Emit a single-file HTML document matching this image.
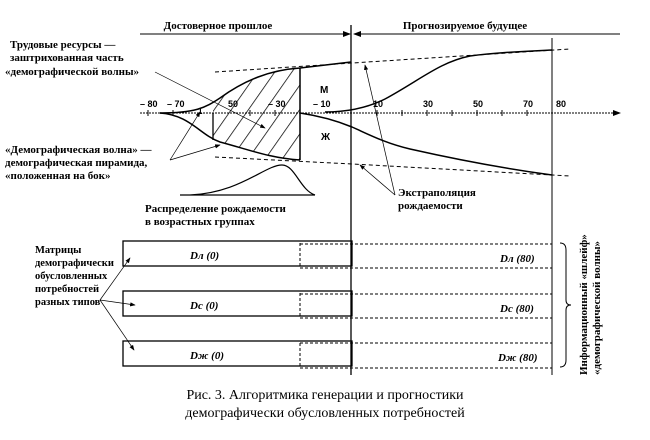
<!DOCTYPE html>
<html><head><meta charset="utf-8"><style>
body{margin:0;background:#fff}
svg{display:block}
.s{font-family:"Liberation Serif",serif;font-weight:bold;font-size:11px}
.a{font-family:"Liberation Sans",sans-serif;font-size:9px;font-weight:bold}
</style></head><body>
<svg width="650" height="440" viewBox="0 0 650 440">
<defs>
<marker id="ar" markerWidth="8" markerHeight="6" refX="7" refY="3" orient="auto"><path d="M0,0 L8,3 L0,6z" fill="#000"/></marker>
<pattern id="h" width="14" height="14" patternUnits="userSpaceOnUse" patternTransform="rotate(35)"><line x1="0" y1="0" x2="0" y2="14" stroke="#000" stroke-width="1.5"/></pattern>
</defs>
<g stroke="#000" fill="none">
<line x1="140" y1="34" x2="350" y2="34" marker-end="url(#ar)"/>
<line x1="620" y1="34" x2="354" y2="34" marker-end="url(#ar)"/>
<line x1="351" y1="25" x2="351" y2="375" stroke-width="1.3"/>
<line x1="552" y1="38" x2="552" y2="375"/>
<line x1="140" y1="113" x2="620" y2="113" stroke-dasharray="2,1" marker-end="url(#ar)"/>
<g stroke-width="1">
<line x1="148" y1="110" x2="148" y2="116"/><line x1="173" y1="110" x2="173" y2="116"/><line x1="250" y1="110" x2="250" y2="116"/><line x1="275" y1="110" x2="275" y2="116"/><line x1="300" y1="110" x2="300" y2="116"/><line x1="377" y1="110" x2="377" y2="116"/><line x1="402" y1="110" x2="402" y2="116"/><line x1="427" y1="110" x2="427" y2="116"/><line x1="452" y1="110" x2="452" y2="116"/><line x1="477" y1="110" x2="477" y2="116"/><line x1="502" y1="110" x2="502" y2="116"/><line x1="527" y1="110" x2="527" y2="116"/>
</g>
<path d="M160,113 C195,113 205,108 220,98 C245,80 270,70 300,68 L351,62" stroke-width="1.5"/>
<path d="M160,113 C190,115 200,135 220,142 C250,150 270,158 300,160" stroke-width="1.5"/>
<path d="M325,112 C345,112 365,109 385,99 C420,80 440,62 470,56 C500,52 530,51 552,50" stroke-width="1.5"/>
<path d="M300,113 C320,116 335,120 352,127 C370,135 385,143 410,149 C450,158 500,168 552,175" stroke-width="1.5"/>
<path d="M213,104 C240,82 270,70 300,68 L300,160 C270,158 250,150 213,140 Z" fill="url(#h)" stroke="none"/>
<line x1="213" y1="113" x2="213" y2="140" stroke-width="1.3"/>
<line x1="300" y1="68" x2="300" y2="160" stroke-width="1.5"/>
<path d="M215,72 L352,63 L570,49" stroke-dasharray="4,3"/>
<path d="M215,157 L352,164 L570,176" stroke-dasharray="4,3"/>
<path d="M180,195 L315,195 M190,195 C240,193 265,165 282,165 C295,165 300,190 315,195" stroke-width="1.2"/>
<g stroke-width="0.7">
<line x1="155" y1="72" x2="265" y2="128" marker-end="url(#ar)"/>
<line x1="170" y1="160" x2="220" y2="145" marker-end="url(#ar)"/>
<line x1="170" y1="160" x2="200" y2="112" marker-end="url(#ar)"/>
<line x1="395" y1="195" x2="365" y2="65" marker-end="url(#ar)"/>
<line x1="395" y1="195" x2="360" y2="165" marker-end="url(#ar)"/>
<line x1="100" y1="300" x2="130" y2="258" marker-end="url(#ar)"/>
<line x1="100" y1="300" x2="135" y2="305" marker-end="url(#ar)"/>
<line x1="100" y1="300" x2="134" y2="350" marker-end="url(#ar)"/>
</g>
<g stroke-width="1.3">
<rect x="123" y="241" width="229" height="25"/>
<rect x="123" y="291" width="229" height="25"/>
<rect x="123" y="341" width="229" height="25"/>
</g>
<g stroke-dasharray="3,2">
<path d="M300,243 V266 M300,293 V316 M300,343 V366"/>
<path d="M300,244 H552 M300,268 H552 M300,294 H552 M300,318 H552 M300,343 H552 M300,368 H552"/>
</g>
<path d="M560,243 Q566,243 566,250 L566,300 Q566,305 571,305 Q566,305 566,310 L566,360 Q566,367 560,367" stroke-width="1"/>
</g>
<g class="s">
<text x="218" y="29" text-anchor="middle">Достоверное прошлое</text>
<text x="465" y="29" text-anchor="middle">Прогнозируемое будущее</text>
<text x="10" y="48">Трудовые ресурсы —</text>
<text x="10" y="61">заштрихованная часть</text>
<text x="5" y="75">«демографической волны»</text>
<text x="5" y="153">«Демографическая волна» —</text>
<text x="5" y="166">демографическая пирамида,</text>
<text x="5" y="179">«положенная на бок»</text>
<text x="145" y="212">Распределение рождаемости</text>
<text x="145" y="225">в возрастных группах</text>
<text x="398" y="196">Экстраполяция</text>
<text x="398" y="209">рождаемости</text>
<g font-size="10.5">
<text x="35" y="253">Матрицы</text>
<text x="35" y="266">демографически</text>
<text x="35" y="279">обусловленных</text>
<text x="35" y="292">потребностей</text>
<text x="35" y="305">разных типов</text>
</g>
<text transform="translate(587,375) rotate(-90)">Информационный «шлейф»</text>
<text transform="translate(600,375) rotate(-90)">«демографической волны»</text>
</g>
<g class="a">
<text x="140" y="107">– 80</text><text x="167" y="107">– 70</text><text x="198" y="114" font-size="8">1</text><text x="228" y="107">50</text><text x="268" y="107">– 30</text><text x="313" y="107">– 10</text>
<text x="373" y="107">10</text><text x="423" y="107">30</text><text x="473" y="107">50</text><text x="523" y="107">70</text><text x="556" y="107">80</text>
<text x="320" y="93" font-size="10">М</text><text x="321" y="140" font-size="10">Ж</text>
</g>
<g font-family="Liberation Serif,serif" font-style="italic" font-size="11" font-weight="bold">
<text x="190" y="259">Dл (0)</text><text x="500" y="262">Dл (80)</text>
<text x="190" y="309">Dc (0)</text><text x="500" y="312">Dc (80)</text>
<text x="190" y="359">Dж (0)</text><text x="498" y="361">Dж (80)</text>
</g>
<g font-family="Liberation Serif,serif" font-size="14">
<text x="325" y="399" text-anchor="middle">Рис. 3. Алгоритмика генерации и прогностики</text>
<text x="325" y="417" text-anchor="middle">демографически обусловленных потребностей</text>
</g>
</svg>
</body></html>
